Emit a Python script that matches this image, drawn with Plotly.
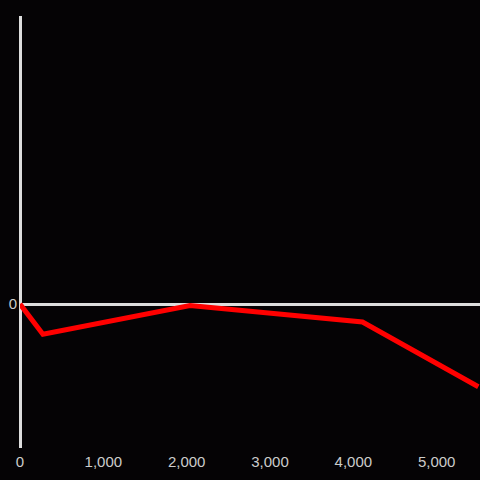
import plotly.graph_objects as go

# valores
x_vals = [0, 275, 2040, 4110, 5500]
y_vals = [0, -0.21, -0.01, -0.125, -0.575]

x_ticks = [0, 1000, 2000, 3000, 4000, 5000]
x_labels = ["0", "1,000", "2,000", "3,000", "4,000", "5,000"]

fig = go.Figure(go.Scatter(
    x=x_vals,
    y=y_vals,
    mode="lines",
    line=dict(color="#ff0000", width=5),
    hoverinfo="skip"
))

fig.update_layout(
    width=480,
    height=480,
    paper_bgcolor="#050305",
    plot_bgcolor="#050305",
    margin=dict(l=20, r=0, t=16, b=32),
    showlegend=False,
    font=dict(family="Liberation Sans, Arial", size=15, color="#cccccc"),
    xaxis=dict(
        range=[0, 5520],
        tickvals=x_ticks,
        ticktext=x_labels,
        showgrid=False,
        showline=False,
        zeroline=True,
        zerolinecolor="#dddddd",
        zerolinewidth=3,
        ticks="",
        ticklabelstandoff=3,
    ),
    yaxis=dict(
        range=[-1, 2],
        tickvals=[0],
        ticktext=["0"],
        showgrid=False,
        showline=False,
        zeroline=True,
        zerolinecolor="#dddddd",
        zerolinewidth=3,
        ticks="",
        ticklabelstandoff=2,
    ),
)

fig.write_html(
    "out.html",
    config={"displayModeBar": False},
    post_script="document.body.style.margin='0';document.body.style.background='#050305';",
)
